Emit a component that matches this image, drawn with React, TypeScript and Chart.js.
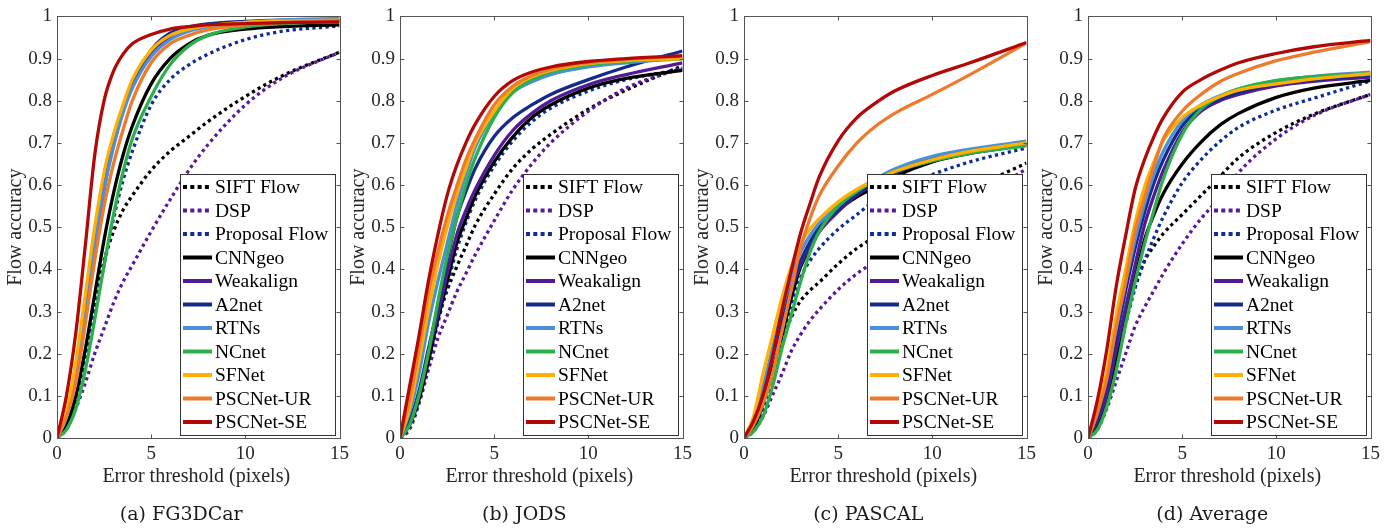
import React, { useEffect, useRef } from 'react';
import { Chart, registerables } from 'chart.js';

Chart.register(...registerables);

// ---------- data ----------
const XS = [0, 0.5, 1, 1.5, 2, 2.5, 3, 3.5, 4, 5, 6, 7, 8, 10, 12, 15];
const X_TICKS = [0, 5, 10, 15];
const Y_TICKS = [0, 0.1, 0.2, 0.3, 0.4, 0.5, 0.6, 0.7, 0.8, 0.9, 1];
const Y_TICK_LABELS = ['0', '0.1', '0.2', '0.3', '0.4', '0.5', '0.6', '0.7', '0.8', '0.9', '1'];
const X_TICK_LABELS = ['0', '5', '10', '15'];

const SERIES_NAMES = ['SIFT Flow', 'DSP', 'Proposal Flow', 'CNNgeo', 'Weakalign', 'A2net', 'RTNs', 'NCnet', 'SFNet', 'PSCNet-UR', 'PSCNet-SE'];
const SERIES_COLORS = ['#000000', '#5a189e', '#0f2c98', '#000000', '#541a96', '#132c8c', '#4b8fda', '#2cb14a', '#ffb000', '#ee7a2e', '#b30808'];
const SERIES_DOTTED = [true, true, true, false, false, false, false, false, false, false, false];

const CAPTIONS = ['(a) FG3DCar', '(b) JODS', '(c) PASCAL', '(d) Average'];
const X_TITLE = 'Error threshold (pixels)';
const Y_TITLE = 'Flow accuracy';

// (a) FG3DCar
const A_SIFT = [0, 0.03, 0.09, 0.2, 0.32, 0.42, 0.49, 0.54, 0.575, 0.635, 0.68, 0.715, 0.75, 0.81, 0.86, 0.915];
const A_DSP = [0, 0.02, 0.07, 0.13, 0.2, 0.26, 0.32, 0.37, 0.41, 0.49, 0.565, 0.635, 0.695, 0.79, 0.855, 0.915];
const A_PROP = [0, 0.025, 0.08, 0.18, 0.3, 0.41, 0.52, 0.61, 0.68, 0.79, 0.85, 0.885, 0.91, 0.945, 0.965, 0.977];
const A_CNN = [0, 0.03, 0.1, 0.21, 0.34, 0.47, 0.58, 0.67, 0.74, 0.84, 0.9, 0.935, 0.955, 0.97, 0.976, 0.98];
const A_WEAK = [0, 0.05, 0.14, 0.29, 0.45, 0.59, 0.7, 0.78, 0.84, 0.915, 0.95, 0.968, 0.977, 0.985, 0.988, 0.99];
const A_A2 = [0, 0.05, 0.15, 0.3, 0.46, 0.6, 0.7, 0.78, 0.84, 0.92, 0.96, 0.975, 0.982, 0.988, 0.991, 0.993];
const A_RTN = [0, 0.05, 0.15, 0.3, 0.46, 0.59, 0.69, 0.77, 0.83, 0.905, 0.945, 0.965, 0.975, 0.986, 0.991, 0.995];
const A_NC = [0, 0.02, 0.07, 0.16, 0.28, 0.41, 0.53, 0.63, 0.71, 0.81, 0.885, 0.93, 0.955, 0.975, 0.983, 0.988];
const A_SF = [0, 0.06, 0.18, 0.34, 0.5, 0.63, 0.72, 0.79, 0.85, 0.92, 0.955, 0.97, 0.978, 0.986, 0.989, 0.991];
const A_UR = [0, 0.05, 0.13, 0.27, 0.42, 0.55, 0.65, 0.73, 0.8, 0.89, 0.935, 0.955, 0.968, 0.98, 0.986, 0.99];
const A_SE = [0, 0.1, 0.25, 0.455, 0.67, 0.8, 0.87, 0.91, 0.935, 0.957, 0.97, 0.976, 0.98, 0.983, 0.985, 0.987];

// (b) JODS
const B_SIFT = [0, 0.03, 0.1, 0.19, 0.28, 0.35, 0.405, 0.455, 0.505, 0.578, 0.64, 0.685, 0.72, 0.78, 0.825, 0.883];
const B_DSP = [0, 0.02, 0.08, 0.16, 0.235, 0.29, 0.345, 0.39, 0.435, 0.515, 0.59, 0.65, 0.7, 0.775, 0.83, 0.878];
const B_PROP = [0, 0.025, 0.085, 0.175, 0.27, 0.36, 0.445, 0.51, 0.565, 0.645, 0.705, 0.75, 0.782, 0.823, 0.85, 0.875];
const B_CNN = [0, 0.03, 0.09, 0.18, 0.28, 0.37, 0.46, 0.52, 0.575, 0.655, 0.715, 0.76, 0.79, 0.83, 0.853, 0.872];
const B_WEAK = [0, 0.035, 0.1, 0.2, 0.29, 0.39, 0.48, 0.54, 0.59, 0.67, 0.73, 0.77, 0.8, 0.838, 0.862, 0.89];
const B_A2 = [0, 0.04, 0.11, 0.21, 0.31, 0.42, 0.52, 0.585, 0.64, 0.715, 0.76, 0.79, 0.815, 0.85, 0.88, 0.918];
const B_RTN = [0, 0.06, 0.15, 0.27, 0.37, 0.46, 0.55, 0.625, 0.69, 0.77, 0.82, 0.845, 0.862, 0.88, 0.89, 0.9];
const B_NC = [0, 0.03, 0.1, 0.2, 0.32, 0.43, 0.52, 0.6, 0.665, 0.76, 0.82, 0.85, 0.868, 0.885, 0.893, 0.9];
const B_SF = [0, 0.07, 0.18, 0.3, 0.41, 0.5, 0.575, 0.64, 0.7, 0.775, 0.83, 0.857, 0.872, 0.888, 0.895, 0.9];
const B_UR = [0, 0.09, 0.21, 0.34, 0.44, 0.525, 0.595, 0.66, 0.71, 0.79, 0.835, 0.86, 0.875, 0.89, 0.898, 0.905];
const B_SE = [0, 0.12, 0.24, 0.37, 0.48, 0.575, 0.645, 0.7, 0.745, 0.81, 0.848, 0.868, 0.88, 0.893, 0.9, 0.907];

// (c) PASCAL
const C_SIFT = [0, 0.02, 0.07, 0.15, 0.225, 0.285, 0.325, 0.35, 0.37, 0.413, 0.45, 0.478, 0.502, 0.545, 0.59, 0.652];
const C_DSP = [0, 0.015, 0.05, 0.1, 0.15, 0.205, 0.245, 0.278, 0.305, 0.352, 0.39, 0.42, 0.45, 0.51, 0.56, 0.638];
const C_PROP = [0, 0.02, 0.07, 0.15, 0.23, 0.31, 0.38, 0.42, 0.45, 0.495, 0.53, 0.565, 0.59, 0.625, 0.655, 0.688];
const C_CNN = [0, 0.02, 0.08, 0.16, 0.24, 0.33, 0.405, 0.45, 0.49, 0.54, 0.572, 0.595, 0.62, 0.655, 0.675, 0.695];
const C_WEAK = [0, 0.035, 0.1, 0.19, 0.27, 0.35, 0.41, 0.455, 0.49, 0.537, 0.577, 0.605, 0.628, 0.66, 0.678, 0.696];
const C_A2 = [0, 0.04, 0.11, 0.2, 0.28, 0.36, 0.42, 0.465, 0.5, 0.542, 0.58, 0.607, 0.63, 0.662, 0.68, 0.698];
const C_RTN = [0, 0.04, 0.12, 0.21, 0.3, 0.38, 0.44, 0.48, 0.51, 0.55, 0.587, 0.615, 0.638, 0.668, 0.685, 0.704];
const C_NC = [0, 0.015, 0.05, 0.12, 0.21, 0.29, 0.37, 0.44, 0.49, 0.55, 0.585, 0.612, 0.632, 0.657, 0.675, 0.693];
const C_SF = [0, 0.05, 0.15, 0.24, 0.33, 0.405, 0.46, 0.495, 0.52, 0.56, 0.59, 0.612, 0.632, 0.66, 0.68, 0.7];
const C_UR = [0, 0.03, 0.08, 0.15, 0.25, 0.35, 0.45, 0.52, 0.575, 0.645, 0.7, 0.74, 0.77, 0.815, 0.862, 0.937];
const C_SE = [0, 0.04, 0.1, 0.19, 0.3, 0.395, 0.485, 0.555, 0.62, 0.705, 0.76, 0.795, 0.823, 0.86, 0.89, 0.938];

// (d) Average
const D_SIFT = [0, 0.03, 0.09, 0.18, 0.28, 0.36, 0.42, 0.455, 0.485, 0.53, 0.575, 0.62, 0.665, 0.725, 0.768, 0.815];
const D_DSP = [0, 0.02, 0.07, 0.135, 0.2, 0.265, 0.31, 0.35, 0.39, 0.46, 0.52, 0.57, 0.63, 0.71, 0.765, 0.815];
const D_PROP = [0, 0.025, 0.08, 0.17, 0.27, 0.355, 0.42, 0.475, 0.525, 0.605, 0.66, 0.703, 0.737, 0.778, 0.806, 0.847];
const D_CNN = [0, 0.03, 0.09, 0.18, 0.28, 0.38, 0.47, 0.53, 0.58, 0.65, 0.702, 0.742, 0.77, 0.808, 0.83, 0.848];
const D_WEAK = [0, 0.04, 0.105, 0.21, 0.31, 0.41, 0.505, 0.575, 0.635, 0.725, 0.775, 0.8, 0.815, 0.835, 0.846, 0.856];
const D_A2 = [0, 0.05, 0.13, 0.24, 0.35, 0.45, 0.535, 0.605, 0.66, 0.74, 0.783, 0.805, 0.82, 0.84, 0.85, 0.86];
const D_RTN = [0, 0.06, 0.15, 0.26, 0.37, 0.47, 0.555, 0.625, 0.68, 0.752, 0.79, 0.812, 0.827, 0.847, 0.858, 0.868];
const D_NC = [0, 0.02, 0.075, 0.16, 0.27, 0.37, 0.46, 0.54, 0.615, 0.72, 0.78, 0.81, 0.828, 0.848, 0.857, 0.865];
const D_SF = [0, 0.07, 0.16, 0.29, 0.4, 0.51, 0.595, 0.655, 0.705, 0.76, 0.79, 0.81, 0.825, 0.84, 0.852, 0.864];
const D_UR = [0, 0.06, 0.14, 0.265, 0.37, 0.49, 0.57, 0.645, 0.71, 0.775, 0.815, 0.845, 0.865, 0.895, 0.915, 0.94];
const D_SE = [0, 0.09, 0.21, 0.36, 0.48, 0.59, 0.66, 0.715, 0.76, 0.82, 0.85, 0.872, 0.89, 0.912, 0.928, 0.943];

const PANEL_SERIES = [
  [A_SIFT, A_DSP, A_PROP, A_CNN, A_WEAK, A_A2, A_RTN, A_NC, A_SF, A_UR, A_SE],
  [B_SIFT, B_DSP, B_PROP, B_CNN, B_WEAK, B_A2, B_RTN, B_NC, B_SF, B_UR, B_SE],
  [C_SIFT, C_DSP, C_PROP, C_CNN, C_WEAK, C_A2, C_RTN, C_NC, C_SF, C_UR, C_SE],
  [D_SIFT, D_DSP, D_PROP, D_CNN, D_WEAK, D_A2, D_RTN, D_NC, D_SF, D_UR, D_SE],
];

// ---------- layout / style ----------
const PANEL_LEFT = [0, 343, 687, 1031];
const CANVAS_W = 354;
const CANVAS_H = 531;
const SERIF = '"Liberation Serif", "Times New Roman", serif';
const CAPTION_FONT = '"DejaVu Serif", serif';
const AXIS_COLOR = '#555555';
const TEXT_COLOR = '#262626';

const decorPlugin = {
  id: 'decor',
  afterDraw(chart: any, _args: any, opts: any) {
    const { ctx } = chart;
    const { left, right, top, bottom } = chart.chartArea;
    const xs = chart.scales.x;
    const ys = chart.scales.y;
    ctx.save();
    // axes box
    ctx.strokeStyle = AXIS_COLOR;
    ctx.lineWidth = 1;
    ctx.setLineDash([]);
    const L = Math.round(left) + 0.5;
    const R = Math.round(right) + 0.5;
    const T = Math.round(top) + 0.5;
    const B = Math.round(bottom) + 0.5;
    ctx.strokeRect(L, T, R - L, B - T);
    ctx.beginPath();
    Y_TICKS.forEach((v) => {
      const y = Math.round(ys.getPixelForValue(v)) + 0.5;
      ctx.moveTo(L, y); ctx.lineTo(L + 4, y);
      ctx.moveTo(R, y); ctx.lineTo(R - 4, y);
    });
    X_TICKS.forEach((v) => {
      const x = Math.round(xs.getPixelForValue(v)) + 0.5;
      ctx.moveTo(x, B); ctx.lineTo(x, B - 4);
      ctx.moveTo(x, T); ctx.lineTo(x, T + 4);
    });
    ctx.stroke();

    // titles
    ctx.fillStyle = TEXT_COLOR;
    ctx.textAlign = 'center';
    ctx.textBaseline = 'middle';
    ctx.font = `20px ${SERIF}`;
    ctx.fillText(X_TITLE, (left + right) / 2 - 2, 477);
    ctx.save();
    ctx.translate(left - 41, (top + bottom) / 2);
    ctx.rotate(-Math.PI / 2);
    ctx.fillText(Y_TITLE, 0, 0);
    ctx.restore();
    ctx.fillStyle = '#1a1a1a';
    ctx.font = `19px ${CAPTION_FONT}`;
    ctx.fillText(opts.caption, (left + right) / 2 - 17, 515);

    // legend
    const bw = 155;
    const bh = 261;
    const bx = Math.round(right - 4.5 - bw);
    const by = Math.round(bottom - 3.5 - bh);
    ctx.fillStyle = '#ffffff';
    ctx.fillRect(bx, by, bw, bh);
    ctx.strokeStyle = '#333333';
    ctx.lineWidth = 1;
    ctx.strokeRect(bx + 0.5, by + 0.5, bw, bh);
    ctx.textAlign = 'left';
    ctx.font = `19.5px ${SERIF}`;
    SERIES_NAMES.forEach((name, i) => {
      const y = by + 13 + i * 23.5;
      ctx.beginPath();
      ctx.strokeStyle = SERIES_COLORS[i];
      ctx.lineWidth = 4;
      ctx.lineCap = 'butt';
      ctx.setLineDash(SERIES_DOTTED[i] ? [4, 3.3] : []);
      ctx.moveTo(bx + 3, y);
      ctx.lineTo(bx + 32, y);
      ctx.stroke();
      ctx.setLineDash([]);
      ctx.fillStyle = '#000000';
      ctx.fillText(name, bx + 35, y + 1);
    });
    ctx.restore();
  },
};

function Panel({ index }: { index: number }) {
  const ref = useRef<HTMLCanvasElement | null>(null);
  useEffect(() => {
    if (!ref.current) return;
    const series = PANEL_SERIES[index];
    const n = SERIES_NAMES.length;
    const chart = new Chart(ref.current, {
      type: 'line',
      data: {
        datasets: SERIES_NAMES.map((name, i) => ({
          label: name,
          data: XS.map((x, k) => ({ x, y: series[i][k] })),
          borderColor: SERIES_COLORS[i],
          backgroundColor: SERIES_COLORS[i],
          borderWidth: 3.3,
          borderDash: SERIES_DOTTED[i] ? [3.2, 3.4] : [],
          borderCapStyle: 'butt',
          pointRadius: 0,
          fill: false,
          cubicInterpolationMode: 'monotone',
          order: n - i,
        })),
      },
      options: {
        animation: false,
        responsive: false,
        events: [],
        layout: { padding: { top: 12, right: 12, left: 0, bottom: 0 } },
        plugins: {
          legend: { display: false },
          tooltip: { enabled: false },
          decor: { caption: CAPTIONS[index] },
        } as any,
        scales: {
          x: {
            type: 'linear',
            min: 0,
            max: 15,
            afterBuildTicks: (s: any) => { s.ticks = X_TICKS.map((v) => ({ value: v })); },
            afterFit: (s: any) => { s.height = 93; },
            grid: { display: false, drawTicks: false },
            border: { display: false },
            ticks: {
              font: { family: SERIF, size: 19 },
              color: TEXT_COLOR,
              padding: 5,
              maxRotation: 0,
              autoSkip: false,
              callback: (_v: any, i: number) => X_TICK_LABELS[i],
            },
          },
          y: {
            type: 'linear',
            min: 0,
            max: 1,
            afterBuildTicks: (s: any) => { s.ticks = Y_TICKS.map((v) => ({ value: v })); },
            afterFit: (s: any) => { s.width = 57; },
            grid: { display: false, drawTicks: false },
            border: { display: false },
            ticks: {
              font: { family: SERIF, size: 19 },
              color: TEXT_COLOR,
              padding: 5,
              autoSkip: false,
              callback: (_v: any, i: number) => Y_TICK_LABELS[i],
            },
          },
        },
      } as any,
      plugins: [decorPlugin],
    });
    return () => chart.destroy();
  }, [index]);
  return (
    <canvas
      ref={ref}
      width={CANVAS_W}
      height={CANVAS_H}
      style={{ position: 'absolute', left: PANEL_LEFT[index], top: 0, width: CANVAS_W, height: CANVAS_H }}
    />
  );
}

export default function App() {
  return (
    <div style={{ position: 'absolute', left: 0, top: 0, width: 1395, height: 531, background: '#ffffff', overflow: 'hidden' }}>
      {CAPTIONS.map((_, i) => (
        <Panel key={i} index={i} />
      ))}
    </div>
  );
}
